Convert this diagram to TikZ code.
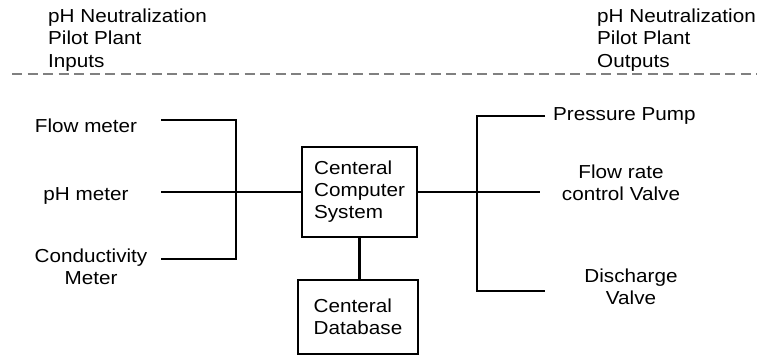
\documentclass[tikz,border=0pt]{standalone}
\usepackage{fontspec}
\setmainfont{Liberation Sans}[FakeStretch=1.1]
\begin{document}
\begin{tikzpicture}[x=1pt,y=-1pt,
  lbl/.style={inner sep=0pt, font=\fontsize{18.8}{22.5}\selectfont},
  boxnode/.style={draw, line width=2.6pt, inner sep=0pt, align=left, font=\fontsize{18.8}{22}\selectfont},
  wire/.style={line width=1.8pt},
  sepline/.style={draw=black!50, line width=1.3pt, dash pattern=on 10pt off 5.5pt}]
\useasboundingbox (0,0) rectangle (761,356);
% headings
\node[lbl, anchor=north west, align=left] (hin) at (48,8.5) {pH Neutralization\\Pilot Plant\\Inputs};
\node[lbl, anchor=north west, align=left] (hout) at (597,8.5) {pH Neutralization\\Pilot Plant\\Outputs};
\coordinate (sepL) at (12,74);
\coordinate (sepR) at (757,74);
\draw[sepline] (sepL) -- (sepR);
% inputs
\node[lbl, anchor=base] (fm) at (86,132) {Flow meter};
\node[lbl, anchor=base] (ph) at (86,200) {pH meter};
\node[lbl, anchor=north, align=center] (cm) at (91,248.5) {Conductivity\\Meter};
% outputs
\node[lbl, anchor=base west] (pp) at (553,120) {Pressure Pump};
\node[lbl, anchor=north, align=center] (fr) at (621,164.5) {Flow rate\\control Valve};
\node[lbl, anchor=north, align=center] (dv) at (631,268.5) {Discharge\\Valve};
% boxes
\node[boxnode, minimum width=115pt, minimum height=90pt] (comp) at (359.5,192) {Centeral\\Computer\\System};
\node[boxnode, minimum width=120pt, minimum height=74pt] (db) at (358,317) {Centeral\\Database};
% input wiring
\coordinate (fmL) at (161,120);
\coordinate (busT) at (236,120);
\coordinate (busB) at (236,259);
\coordinate (cmL) at (161,259);
\coordinate (phL) at (161,192);
\draw[wire] (fmL) -- (busT) -- (busB) -- (cmL);
\draw[wire] (phL) -- (comp.west);
% output wiring
\coordinate (frR) at (540,192);
\coordinate (ppR) at (545,116);
\coordinate (obT) at (477,116);
\coordinate (obB) at (477,291);
\coordinate (dvR) at (545,291);
\draw[wire] (comp.east) -- (frR);
\draw[wire] (ppR) -- (obT) -- (obB) -- (dvR);
% computer to database
\draw[line width=2.6pt] (comp.south) -- (comp.south |- db.north);
\end{tikzpicture}
\end{document}
